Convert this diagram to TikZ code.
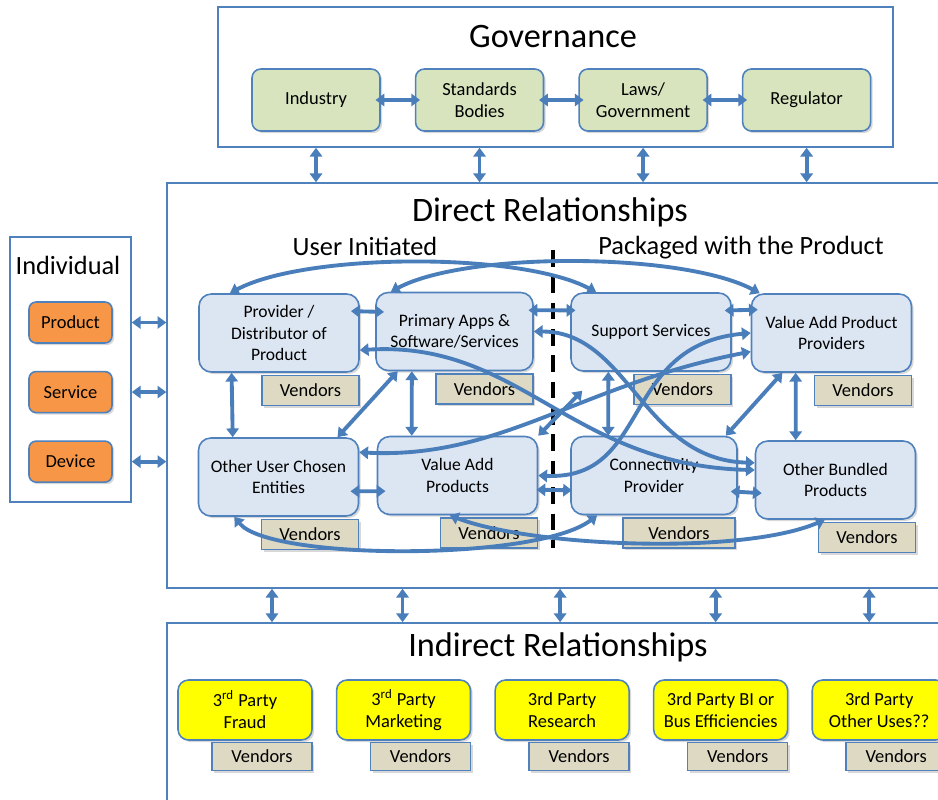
\documentclass[tikz,border=0pt]{standalone}
\usepackage{fontspec}
\setmainfont{Carlito}
\usepackage{tikz}
\usetikzlibrary{arrows.meta,positioning,calc,shadows}
\definecolor{edgeBlue}{HTML}{4F81BD}
\definecolor{arrowBlue}{HTML}{4A7EBB}
\definecolor{govGreen}{HTML}{D7E4BD}
\definecolor{relFill}{HTML}{DCE6F2}
\definecolor{vendorTan}{HTML}{DDD9C3}
\definecolor{indivOrange}{HTML}{F79646}
\definecolor{partyYellow}{HTML}{FFFF00}

\begin{document}
\begin{tikzpicture}[
  x=0.02cm, y=-0.02cm,
  node distance=0.68cm,
  panel/.style={rectangle, draw=edgeBlue, line width=0.9pt, fill=white, inner sep=0pt},
  heading/.style={font=\fontsize{19.5}{23}\selectfont},
  subheading/.style={font=\fontsize{15}{18}\selectfont},
  box/.style={rectangle, draw=edgeBlue, line width=0.9pt, align=center, inner sep=2pt, font=\fontsize{10.5}{12.5}\selectfont, drop shadow={shadow xshift=1.2pt, shadow yshift=-1.2pt, opacity=0.3}},
  govbox/.style={box, rounded corners=5pt, fill=govGreen, minimum width=2.56cm, minimum height=1.24cm},
  indivbox/.style={box, rounded corners=4pt, fill=indivOrange, minimum width=1.66cm, minimum height=0.82cm},
  relbox/.style={box, rounded corners=7pt, fill=relFill, minimum width=3.2cm, minimum height=1.56cm, font=\fontsize{10}{12}\selectfont},
  vendor/.style={box, fill=vendorTan, minimum width=1.94cm, minimum height=0.6cm},
  partybox/.style={box, rounded corners=6pt, fill=partyYellow, minimum width=2.68cm, minimum height=1.2cm},
  partyvendor/.style={vendor, minimum width=2cm, minimum height=0.56cm},
  arrow/.style={>={Triangle[length=5pt,width=7pt]}, <->, line width=2.2pt, draw=arrowBlue},
  overlap/.style={shorten <=-#1, shorten >=-#1},
  overlap/.default=4pt,
  divider/.style={line width=2.3pt, dash pattern=on 9.5pt off 5.5pt}
]
\useasboundingbox (0,0) rectangle (938,800);
\clip (0,0) rectangle (938,800);

\node[panel, minimum width=13.5cm, minimum height=2.8cm] (governance) at (555.5,77) {};
\node[panel, minimum width=2.42cm, minimum height=5.3cm] (individual) at (70.5,369.5) {};
\node[panel, minimum width=15.56cm, minimum height=8.1cm] (direct) at (556,385.5) {};
\node[panel, minimum width=15.56cm, minimum height=3.74cm] (indirect) at (556,716.5) {};

\node[heading] (govtitle) at (553,37) {Governance};
\node[heading] (directtitle) at (550,212) {Direct Relationships};
\node[heading] (indirecttitle) at (558,647) {Indirect Relationships};
\node[subheading] (indivtitle) at (68,265) {Individual};
\node[subheading] (usertitle) at (365,246) {User Initiated};
\node[subheading] (packtitle) at (741,248) {Packaged with the Product};

\node[govbox] (industry) at (316,100) {Industry};
\node[govbox, right=of industry] (standards) {Standards\\Bodies};
\node[govbox, right=of standards] (laws) {Laws/\\Government};
\node[govbox, right=of laws] (regulator) {Regulator};

\node[indivbox] (product) at (70.5,322.5) {Product};
\node[indivbox, below=0.54cm of product] (service) {Service};
\node[indivbox, below=0.54cm of service] (device) {Device};

\node[relbox] (provider) at (279,333) {Provider /\\Distributor of\\Product};
\node[relbox, minimum width=3.14cm] (apps) at (454.5,331.5) {Primary Apps \&\\Software/Services};
\node[relbox] (support) at (651,332) {Support Services};
\node[relbox] (vaprov) at (831.5,333) {Value Add Product\\Providers};
\node[relbox] (userchosen) at (278.5,477) {Other User Chosen\\Entities};
\node[relbox] (vaprod) at (457.5,475.5) {Value Add\\Products};
\node[relbox, minimum width=3.32cm] (connect) at (654,475.5) {Connectivity\\Provider};
\node[relbox] (bundled) at (835.5,480) {Other Bundled\\Products};
\foreach \b in {provider,apps,support,vaprov,userchosen,vaprod,bundled}
  \node[vendor, below left=0.04cm and 0cm of \b.south east] (\b-v) {Vendors};
\node[vendor, minimum width=2.24cm, below left=0.04cm and 0.04cm of connect.south east] (connect-v) {Vendors};

\node[partybox] (fraud) at (245,710) {3\textsuperscript{rd} Party\\Fraud};
\node[partybox, right=0.46cm of fraud] (marketing) {3\textsuperscript{rd} Party\\Marketing};
\node[partybox, right=0.46cm of marketing] (research) {3rd Party\\Research};
\node[partybox, right=0.46cm of research] (bizintel) {3rd Party BI or\\Bus Efficiencies};
\node[partybox, right=0.46cm of bizintel] (otheruse) {3rd Party\\Other Uses??};
\foreach \p in {fraud,marketing,research,bizintel,otheruse}
  \node[partyvendor, below left=0.02cm and 0cm of \p.south east] (\p-v) {Vendors};

\coordinate (divtop) at (553,250);
\coordinate (divbot) at (553,548);
\draw[divider] (divtop) -- (divbot);

\draw[arrow, overlap=3pt] (industry) -- (standards);
\draw[arrow, overlap=3pt] (standards) -- (laws);
\draw[arrow, overlap=3pt] (laws) -- (regulator);
\foreach \g in {industry,standards,laws,regulator}
  \draw[arrow] (governance.south -| \g) -- (direct.north -| \g);
\foreach \i in {product,service,device}
  \draw[arrow] (individual.east |- \i) -- (direct.west |- \i);
\foreach \p/\dx in {fraud/27,marketing/-1,research/-2,bizintel/-5,otheruse/-10}
  \draw[arrow] ($(direct.south -| \p)+(\dx,0)$) -- ($(indirect.north -| \p)+(\dx,0)$);

\draw[arrow, overlap=5pt] (provider.15) -- (apps.166);
\draw[arrow, overlap=3pt] (apps.15) -- (support.165);
\draw[arrow, overlap=4pt] (support.15) -- (vaprov.164);
\draw[arrow, overlap=5pt] (userchosen.-10) -- (vaprod.191);
\draw[arrow, overlap=1pt] (vaprod.-10) -- (connect.190);
\draw[arrow, overlap=4pt] (connect.-11) -- (bundled.189);
\draw[arrow] (provider.220) -- (userchosen.139);
\draw[arrow] (apps.223) -- (vaprod.139);
\draw[arrow] (support.223) -- (connect.139);
\draw[arrow] (vaprov.228) -- (bundled.135);
\draw[arrow] (apps.215) -- (userchosen.34);
\draw[arrow] (vaprov.219) -- (connect.29);
\draw[arrow] (vaprod.north east) -- ($(support.south west)+(12,19)$);

\draw[arrow] (provider.141) to[out=28,in=152,looseness=0.6] (support.144);
\draw[arrow] (apps.148) to[out=28,in=152,looseness=0.6] (vaprov.151);
\draw[arrow] (provider.-12) .. controls +(161,-10) and +(-186,-5) .. (bundled.173);
\draw[arrow] (apps.east) .. controls +(95,0) and +(-112,-3) .. (bundled.168);
\draw[arrow] (userchosen.17) .. controls +(142,7) and +(-171,33) .. (vaprov.193);
\draw[arrow] (vaprod.east) .. controls +(113,5) and +(-131,12) .. (vaprov.west);
\draw[arrow] (userchosen.222) .. controls +(35,44) and +(-60,46) .. (connect.215);
\draw[arrow] (vaprod.259) .. controls +(80,31) and +(-85,36) .. (bundled.255);
\end{tikzpicture}
\end{document}
